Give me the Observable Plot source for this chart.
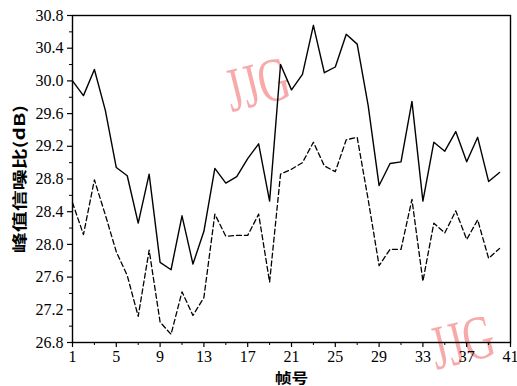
<!DOCTYPE html>
<html>
<head>
<meta charset="utf-8">
<script src="https://cdn.jsdelivr.net/npm/d3@7"></script>
<script src="https://cdn.jsdelivr.net/npm/@observablehq/plot@0.6"></script>
<style>
  html, body { margin: 0; padding: 0; background: #fff; }
  svg { display: block; }
</style>
</head>
<body>
<script>
const frames = [1,2,3,4,5,6,7,8,9,10,11,12,13,14,15,16,17,18,19,20,21,22,23,24,25,26,27,28,29,30,31,32,33,34,35,36,37,38,39,40];
const solidValues = [30.00, 29.82, 30.14, 29.64, 28.94, 28.84, 28.26, 28.86, 27.78, 27.69, 28.35, 27.76, 28.16, 28.93, 28.75, 28.83, 29.05, 29.23, 28.53, 30.20, 29.89, 30.08, 30.68, 30.10, 30.17, 30.57, 30.45, 29.70, 28.72, 28.99, 29.01, 29.75, 28.53, 29.25, 29.14, 29.38, 29.01, 29.31, 28.77, 28.88];
const dashedValues = [28.51, 28.12, 28.79, 28.36, 27.91, 27.62, 27.12, 27.93, 27.05, 26.90, 27.42, 27.13, 27.35, 28.37, 28.10, 28.11, 28.11, 28.37, 27.54, 28.86, 28.92, 29.00, 29.25, 28.96, 28.89, 29.28, 29.31, 28.55, 27.74, 27.94, 27.94, 28.55, 27.55, 28.26, 28.14, 28.41, 28.06, 28.30, 27.83, 27.95];
const xTicks = [1,5,9,13,17,21,25,29,33,37,41];
const xMinorTicks = [3,7,11,15,19,23,27,31,35,39];
const yTicks = [26.8,27.2,27.6,28.0,28.4,28.8,29.2,29.6,30.0,30.4,30.8];
const yMinorTicks = [27.0,27.4,27.8,28.2,28.6,29.0,29.4,29.8,30.2,30.6];
const yLabel = "峰值信噪比(dB)";
const xLabel = "帧号";
const wmText = ["JJG", "JJG"];
const wmX = [17.9, 36.6];
const wmY = [29.95, 26.8];

const solid = frames.map((f, i) => ({frame: f, v: solidValues[i]}));
const dashed = frames.map((f, i) => ({frame: f, v: dashedValues[i]}));
const wm = wmText.map((t, i) => ({t, x: wmX[i], y: wmY[i]}));

const serif = "'Liberation Serif', 'Times New Roman', serif";
const cjk = "'Noto Sans CJK SC', sans-serif";

const chart = Plot.plot({
  width: 517,
  height: 386,
  marginLeft: 72,
  marginRight: 7,
  marginTop: 15,
  marginBottom: 44,
  style: {background: "#fff", overflow: "visible", fontFamily: serif},
  x: {domain: [1, 41]},
  y: {domain: [26.8, 30.8]},
  marks: [
    Plot.text(wm, {x: "x", y: "y", text: "t", rotate: -14, fontSize: 50, fontFamily: serif, fill: "#f8aaaa", textAnchor: "middle", lineAnchor: "middle", clip: false, className: "wm"}),
    Plot.frame({stroke: "#000", strokeWidth: 1.4}),
    Plot.axisX({ticks: xTicks, tickSize: 5, tickPadding: 3, fontSize: 16, fontFamily: serif, fill: "#000", stroke: "#000", strokeWidth: 1.2, label: null, tickFormat: d => String(d)}),
    Plot.axisX({ticks: xMinorTicks, tickSize: 3, text: null, stroke: "#000", strokeWidth: 1, label: null}),
    Plot.axisY({ticks: yTicks, tickSize: 5, tickPadding: 4, fontSize: 16, fontFamily: serif, fill: "#000", stroke: "#000", strokeWidth: 1.2, label: null, tickFormat: d => d.toFixed(1)}),
    Plot.axisY({ticks: yMinorTicks, tickSize: 3, text: null, stroke: "#000", strokeWidth: 1, label: null}),
    Plot.line(solid, {x: "frame", y: "v", stroke: "#000", strokeWidth: 1.4}),
    Plot.line(dashed, {x: "frame", y: "v", stroke: "#000", strokeWidth: 1.3, strokeDasharray: "5,3"}),
    Plot.text([yLabel], {frameAnchor: "left", dx: -52, rotate: -90, textAnchor: "middle", lineAnchor: "middle", fontSize: 15, fontWeight: "bold", fontFamily: cjk, fill: "#000", className: "ylab"}),
    Plot.text([xLabel], {frameAnchor: "bottom", dy: 36, textAnchor: "middle", lineAnchor: "middle", fontSize: 14, fontWeight: "bold", fontFamily: cjk, fill: "#000", className: "xlab"})
  ]
});
// stretch glyphs to mimic the scanned figure's fonts
d3.select(chart).selectAll(".ylab text").attr("transform", function() { return (this.getAttribute("transform") || "") + " scale(1.4,1)"; });
d3.select(chart).selectAll(".xlab text").attr("transform", function() { return (this.getAttribute("transform") || "") + " scale(1.2,1)"; });
d3.select(chart).selectAll(".wm text").attr("transform", function() { return (this.getAttribute("transform") || "") + " scale(0.85,1.25)"; });
document.body.appendChild(chart);
</script>
</body>
</html>
